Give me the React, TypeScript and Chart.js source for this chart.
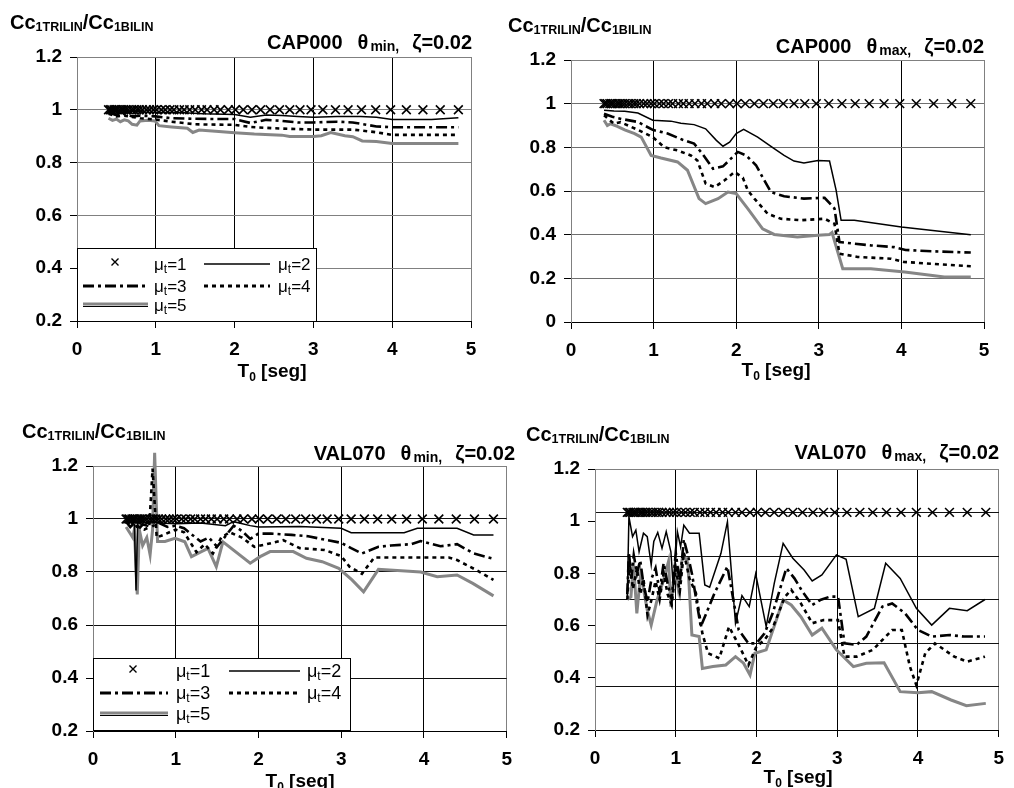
import React, { useEffect, useRef } from 'react';
import { Chart, registerables } from 'chart.js';

Chart.register(...registerables);

const FAM = "'Liberation Sans', Arial, Helvetica, sans-serif";

// ---------------- DATA ----------------
// Periods T0 [seg] (markers of mu_t = 1)
const periods = [0.40, 0.42, 0.44, 0.47, 0.49, 0.51, 0.54, 0.57, 0.59, 0.62, 0.65, 0.69, 0.72, 0.76, 0.79, 0.83, 0.88, 0.92, 0.97, 1.01, 1.07, 1.12, 1.18, 1.23, 1.30, 1.36, 1.43, 1.50, 1.58, 1.65, 1.74, 1.82, 1.92, 2.01, 2.11, 2.22, 2.33, 2.45, 2.57, 2.70, 2.83, 2.97, 3.12, 3.28, 3.44, 3.61, 3.79, 3.98, 4.18, 4.39, 4.61, 4.84];

const ratioMu1 = [1, 1, 1, 1, 1, 1, 1, 1, 1, 1, 1, 1, 1, 1, 1, 1, 1, 1, 1, 1, 1, 1, 1, 1, 1, 1, 1, 1, 1, 1, 1, 1, 1, 1, 1, 1, 1, 1, 1, 1, 1, 1, 1, 1, 1, 1, 1, 1, 1, 1, 1, 1];
const ratioMu1Val070Max = [1.034, 1.034, 1.034, 1.034, 1.034, 1.034, 1.034, 1.034, 1.034, 1.034, 1.034, 1.034, 1.034, 1.034, 1.034, 1.034, 1.034, 1.034, 1.034, 1.034, 1.034, 1.034, 1.034, 1.034, 1.034, 1.034, 1.034, 1.034, 1.034, 1.034, 1.034, 1.034, 1.034, 1.034, 1.034, 1.034, 1.034, 1.034, 1.034, 1.034, 1.034, 1.034, 1.034, 1.034, 1.034, 1.034, 1.034, 1.034, 1.034, 1.034, 1.034, 1.034];

// CAP000 theta min
const cap000MinMu2 = [[0.40, 1.0], [0.45, 0.99], [0.5, 0.995], [0.6, 0.99], [0.75, 0.995], [0.9, 0.99], [1.0, 0.99], [1.3, 0.99], [1.6, 0.985], [2.0, 0.982], [2.2, 0.972], [2.4, 0.98], [2.6, 0.978], [2.8, 0.975], [3.0, 0.972], [3.3, 0.975], [3.6, 0.975], [3.8, 0.972], [4.0, 0.963], [4.5, 0.963], [4.84, 0.97]];
const cap000MinMu3 = [[0.40, 0.99], [0.5, 0.98], [0.6, 0.985], [0.7, 0.975], [0.8, 0.978], [1.0, 0.975], [1.2, 0.968], [1.5, 0.966], [1.8, 0.965], [2.0, 0.965], [2.2, 0.95], [2.4, 0.962], [2.6, 0.958], [2.8, 0.952], [3.0, 0.952], [3.3, 0.955], [3.5, 0.952], [3.8, 0.937], [4.0, 0.934], [4.84, 0.934]];
const cap000MinMu4 = [[0.40, 0.985], [0.5, 0.975], [0.6, 0.978], [0.8, 0.968], [1.0, 0.963], [1.2, 0.955], [1.5, 0.945], [2.0, 0.943], [2.2, 0.935], [2.5, 0.93], [3.0, 0.925], [3.5, 0.925], [3.8, 0.915], [4.0, 0.905], [4.84, 0.905]];
const cap000MinMu5 = [[0.40, 0.968], [0.45, 0.96], [0.5, 0.965], [0.55, 0.955], [0.6, 0.962], [0.65, 0.958], [0.7, 0.945], [0.76, 0.942], [0.8, 0.958], [0.9, 0.96], [0.99, 0.958], [1.04, 0.94], [1.2, 0.935], [1.4, 0.93], [1.47, 0.914], [1.55, 0.923], [1.8, 0.918], [2.0, 0.913], [2.25, 0.908], [2.6, 0.904], [2.7, 0.899], [3.0, 0.899], [3.1, 0.902], [3.22, 0.914], [3.4, 0.902], [3.5, 0.898], [3.62, 0.882], [3.8, 0.88], [4.0, 0.872], [4.84, 0.872]];

// CAP000 theta max
const cap000MaxMu2 = [[0.40, 0.97], [0.52, 0.966], [0.65, 0.965], [0.81, 0.957], [0.99, 0.924], [1.21, 0.92], [1.33, 0.91], [1.49, 0.904], [1.63, 0.885], [1.76, 0.832], [1.84, 0.805], [1.92, 0.824], [2.0, 0.863], [2.09, 0.882], [2.26, 0.847], [2.46, 0.794], [2.58, 0.763], [2.7, 0.737], [2.82, 0.728], [2.99, 0.74], [3.13, 0.737], [3.21, 0.603], [3.27, 0.466], [3.43, 0.466], [4.0, 0.435], [4.84, 0.40]];
const cap000MaxMu3 = [[0.40, 0.954], [0.5, 0.94], [0.61, 0.93], [0.81, 0.916], [0.99, 0.88], [1.17, 0.863], [1.35, 0.835], [1.49, 0.817], [1.59, 0.771], [1.72, 0.702], [1.84, 0.713], [2.02, 0.779], [2.12, 0.763], [2.24, 0.718], [2.34, 0.649], [2.42, 0.595], [2.58, 0.576], [2.82, 0.565], [3.07, 0.569], [3.19, 0.52], [3.25, 0.366], [3.35, 0.362], [3.63, 0.351], [3.91, 0.343], [4.05, 0.33], [4.3, 0.325], [4.84, 0.318]];
const cap000MaxMu4 = [[0.40, 0.947], [0.52, 0.908], [0.6, 0.915], [0.81, 0.88], [0.99, 0.847], [1.13, 0.80], [1.29, 0.786], [1.45, 0.763], [1.53, 0.74], [1.63, 0.634], [1.74, 0.618], [1.86, 0.649], [1.98, 0.687], [2.08, 0.661], [2.14, 0.603], [2.22, 0.565], [2.38, 0.496], [2.54, 0.473], [2.78, 0.466], [2.9, 0.469], [3.07, 0.473], [3.19, 0.45], [3.25, 0.313], [3.47, 0.298], [3.87, 0.29], [4.03, 0.275], [4.36, 0.267], [4.84, 0.255]];
const cap000MaxMu5 = [[0.40, 0.924], [0.44, 0.9], [0.48, 0.908], [0.56, 0.896], [0.65, 0.88], [0.77, 0.863], [0.85, 0.847], [0.97, 0.763], [1.09, 0.751], [1.29, 0.733], [1.41, 0.695], [1.55, 0.565], [1.63, 0.542], [1.78, 0.565], [1.9, 0.595], [2.0, 0.588], [2.14, 0.519], [2.32, 0.427], [2.46, 0.401], [2.74, 0.389], [2.99, 0.397], [3.13, 0.401], [3.16, 0.41], [3.29, 0.244], [3.63, 0.244], [4.04, 0.229], [4.52, 0.206], [4.84, 0.206]];

// VAL070 theta min
const val070MinMu2 = [[0.40, 1.0], [0.45, 0.99], [0.5, 0.98], [0.52, 0.73], [0.54, 0.99], [0.6, 0.975], [0.7, 0.99], [0.8, 0.985], [1.0, 0.982], [1.3, 0.985], [1.6, 0.975], [1.7, 0.99], [1.9, 0.975], [2.0, 0.97], [2.5, 0.972], [3.0, 0.965], [3.12, 0.948], [3.76, 0.948], [3.92, 0.965], [4.4, 0.965], [4.6, 0.94], [4.84, 0.94]];
const val070MinMu3 = [[0.40, 0.99], [0.45, 0.97], [0.5, 0.985], [0.55, 0.96], [0.6, 0.98], [0.7, 0.97], [0.8, 0.985], [0.9, 0.97], [1.0, 0.975], [1.1, 0.965], [1.2, 0.94], [1.3, 0.915], [1.4, 0.93], [1.5, 0.895], [1.6, 0.935], [1.7, 0.975], [1.8, 0.955], [1.9, 0.925], [2.0, 0.945], [2.15, 0.945], [2.4, 0.94], [2.6, 0.935], [2.8, 0.922], [3.0, 0.91], [3.12, 0.89], [3.25, 0.87], [3.45, 0.895], [3.6, 0.9], [3.85, 0.905], [3.96, 0.917], [4.2, 0.897], [4.4, 0.905], [4.6, 0.87], [4.84, 0.85]];
const val070MinMu4 = [[0.40, 0.99], [0.45, 0.975], [0.5, 0.99], [0.55, 0.97], [0.62, 0.96], [0.68, 0.97], [0.72, 1.19], [0.77, 0.93], [0.85, 0.94], [1.0, 0.96], [1.1, 0.95], [1.2, 0.9], [1.25, 0.875], [1.35, 0.905], [1.45, 0.87], [1.55, 0.93], [1.65, 0.95], [1.8, 0.93], [1.95, 0.895], [2.1, 0.905], [2.3, 0.92], [2.5, 0.89], [2.8, 0.883], [3.0, 0.86], [3.1, 0.82], [3.25, 0.793], [3.4, 0.855], [3.7, 0.855], [4.3, 0.855], [4.4, 0.845], [4.63, 0.808], [4.84, 0.77]];
const val070MinMu5 = [[0.40, 0.97], [0.45, 0.945], [0.48, 0.93], [0.5, 0.96], [0.535, 0.715], [0.56, 0.96], [0.6, 0.9], [0.65, 0.93], [0.69, 0.865], [0.72, 0.96], [0.745, 1.25], [0.78, 0.915], [0.87, 0.915], [0.99, 0.927], [1.11, 0.914], [1.19, 0.858], [1.31, 0.877], [1.39, 0.889], [1.49, 0.82], [1.57, 0.914], [1.9, 0.833], [2.02, 0.858], [2.14, 0.877], [2.42, 0.877], [2.58, 0.852], [2.77, 0.839], [2.97, 0.814], [3.13, 0.77], [3.27, 0.725], [3.45, 0.81], [3.96, 0.8], [4.16, 0.782], [4.4, 0.789], [4.59, 0.757], [4.84, 0.71]];

// VAL070 theta max
const val070MaxMu2 = [[0.40, 0.71], [0.42, 1.017], [0.465, 0.941], [0.506, 0.966], [0.546, 0.883], [0.6, 0.954], [0.647, 0.941], [0.696, 0.832], [0.728, 0.922], [0.777, 0.957], [0.83, 0.896], [0.882, 0.96], [0.94, 0.883], [0.97, 0.743], [1.02, 0.96], [1.06, 0.902], [1.1, 0.985], [1.17, 0.954], [1.29, 0.954], [1.36, 0.756], [1.42, 0.747], [1.56, 0.877], [1.64, 0.998], [1.74, 0.609], [1.82, 0.715], [1.91, 0.673], [1.99, 0.798], [2.12, 0.596], [2.22, 0.762], [2.33, 0.915], [2.45, 0.858], [2.59, 0.813], [2.69, 0.771], [2.81, 0.794], [2.99, 0.871], [3.11, 0.854], [3.26, 0.634], [3.46, 0.666], [3.6, 0.839], [3.78, 0.781], [3.98, 0.666], [4.17, 0.602], [4.39, 0.666], [4.61, 0.657], [4.83, 0.70]];
const val070MaxMu3 = [[0.40, 0.72], [0.42, 0.88], [0.45, 0.78], [0.48, 0.87], [0.52, 0.8], [0.56, 0.85], [0.6, 0.76], [0.65, 0.69], [0.7, 0.78], [0.75, 0.82], [0.8, 0.73], [0.85, 0.84], [0.9, 0.76], [0.95, 0.7], [1.0, 0.88], [1.05, 0.76], [1.1, 0.93], [1.15, 0.87], [1.2, 0.8], [1.31, 0.596], [1.48, 0.724], [1.64, 0.826], [1.78, 0.583], [1.9, 0.532], [2.0, 0.532], [2.1, 0.57], [2.2, 0.647], [2.37, 0.82], [2.47, 0.781], [2.57, 0.73], [2.69, 0.679], [2.79, 0.698], [2.91, 0.711], [3.01, 0.711], [3.09, 0.532], [3.24, 0.526], [3.36, 0.558], [3.56, 0.673], [3.68, 0.685], [3.84, 0.647], [4.0, 0.583], [4.17, 0.558], [4.39, 0.564], [4.57, 0.558], [4.83, 0.558]];
const val070MaxMu4 = [[0.40, 0.7], [0.43, 0.84], [0.47, 0.74], [0.52, 0.82], [0.56, 0.72], [0.6, 0.78], [0.65, 0.64], [0.7, 0.7], [0.75, 0.77], [0.8, 0.7], [0.85, 0.8], [0.9, 0.72], [0.95, 0.68], [1.0, 0.82], [1.05, 0.73], [1.1, 0.88], [1.17, 0.78], [1.25, 0.724], [1.33, 0.57], [1.4, 0.494], [1.54, 0.475], [1.66, 0.596], [1.78, 0.526], [1.9, 0.449], [2.0, 0.52], [2.1, 0.545], [2.2, 0.59], [2.35, 0.71], [2.43, 0.737], [2.55, 0.685], [2.69, 0.609], [2.83, 0.621], [3.01, 0.621], [3.09, 0.481], [3.24, 0.481], [3.44, 0.507], [3.56, 0.545], [3.68, 0.583], [3.8, 0.583], [3.9, 0.443], [3.98, 0.372], [4.09, 0.494], [4.21, 0.532], [4.45, 0.481], [4.61, 0.462], [4.83, 0.481]];
const val070MaxMu5 = [[0.40, 0.7], [0.445, 0.71], [0.477, 0.839], [0.518, 0.647], [0.566, 0.8], [0.647, 0.66], [0.696, 0.602], [0.769, 0.698], [0.85, 0.775], [0.91, 0.845], [0.94, 0.673], [0.99, 0.826], [1.03, 0.743], [1.09, 0.877], [1.15, 0.839], [1.2, 0.564], [1.29, 0.558], [1.33, 0.436], [1.46, 0.443], [1.62, 0.449], [1.74, 0.481], [1.84, 0.456], [1.92, 0.411], [1.98, 0.494], [2.12, 0.507], [2.33, 0.698], [2.43, 0.679], [2.55, 0.634], [2.69, 0.564], [2.81, 0.59], [2.99, 0.507], [3.2, 0.443], [3.36, 0.456], [3.58, 0.458], [3.78, 0.347], [4.0, 0.343], [4.17, 0.347], [4.41, 0.315], [4.6, 0.293], [4.84, 0.302]];

const xTicks = [0, 1, 2, 3, 4, 5];
const legendLabels = ['1', '2', '3', '4', '5'];

// ---------------- LAYOUT (pixels, styles) ----------------
const panels = [
  {
    key: 'p1', name: 'CAP000', which: 'min', x0: 0, y0: 0, w: 507, h: 394,
    left: 77, right: 471, top: 57, bottom: 321, yMin: 0.2, yMax: 1.2, hGrid: '#808080',
    series: [ratioMu1, cap000MinMu2, cap000MinMu3, cap000MinMu4, cap000MinMu5],
    titleRight: 472, titleBase: 49, yTitleX: 10, yTitleBase: 29, xTitleCx: 272, xTitleBase: 377,
    legend: { box: [77, 248, 317, 322], rows: [264, 286, 305], s1: [83, 148], t1: 154, s2: [204, 270], t2: 278, mx: 115, fs: 17 },
    sixGrid: false,
  },
  {
    key: 'p2', name: 'CAP000', which: 'max', x0: 507, y0: 0, w: 507, h: 394,
    left: 571, right: 984, top: 60, bottom: 322, yMin: 0, yMax: 1.2, hGrid: '#6e6e6e',
    series: [ratioMu1, cap000MaxMu2, cap000MaxMu3, cap000MaxMu4, cap000MaxMu5],
    titleRight: 984, titleBase: 53, yTitleX: 508, yTitleBase: 32, xTitleCx: 776, xTitleBase: 376,
    legend: null, sixGrid: false,
  },
  {
    key: 'p3', name: 'VAL070', which: 'min', x0: 0, y0: 394, w: 522, h: 394,
    left: 93, right: 514, top: 466, bottom: 731, yMin: 0.2, yMax: 1.2, hGrid: '#111111',
    series: [ratioMu1, val070MinMu2, val070MinMu3, val070MinMu4, val070MinMu5],
    titleRight: 515, titleBase: 460, yTitleX: 22, yTitleBase: 438, xTitleCx: 300, xTitleBase: 787,
    legend: { box: [93, 658, 351, 731], rows: [671, 693, 714], s1: [100, 168], t1: 176, s2: [229, 300], t2: 307, mx: 133, fs: 18 },
    sixGrid: false,
  },
  {
    key: 'p4', name: 'VAL070', which: 'max', x0: 522, y0: 394, w: 492, h: 394,
    left: 595, right: 1007, top: 469, bottom: 730, yMin: 0.2, yMax: 1.2, hGrid: '#111111',
    series: [ratioMu1Val070Max, val070MaxMu2, val070MaxMu3, val070MaxMu4, val070MaxMu5],
    titleRight: 999, titleBase: 459, yTitleX: 526, yTitleBase: 441, xTitleCx: 798, xTitleBase: 783,
    legend: null, sixGrid: true,
  },
];

const Y_W = 60;
const X_H = 40;
const DASH3 = [11, 4, 3, 4];
const DASH4 = [4, 4];
const GRAY5 = '#868686';

function font(size: number, bold: boolean) {
  return `${bold ? 'bold ' : ''}${size}px ${FAM}`;
}

type Part = { t: string; size: number; bold?: boolean; dy?: number; gap?: number };

function partsWidth(ctx: CanvasRenderingContext2D, parts: Part[]) {
  let w = 0;
  parts.forEach((p, i) => {
    ctx.font = font(p.size, !!p.bold);
    w += ctx.measureText(p.t).width + (i < parts.length - 1 ? p.gap || 0 : 0);
  });
  return w;
}

function drawParts(ctx: CanvasRenderingContext2D, x: number, base: number, parts: Part[]) {
  ctx.textAlign = 'left';
  ctx.textBaseline = 'alphabetic';
  for (const p of parts) {
    ctx.font = font(p.size, !!p.bold);
    ctx.fillText(p.t, x, base + (p.dy || 0));
    x += ctx.measureText(p.t).width + (p.gap || 0);
  }
  return x;
}

function sampleLine(ctx: CanvasRenderingContext2D, x1: number, x2: number, y: number, idx: number) {
  ctx.save();
  ctx.lineCap = 'butt';
  if (idx === 1) {
    ctx.strokeStyle = '#000'; ctx.lineWidth = 1.5; ctx.setLineDash([]);
    ctx.beginPath(); ctx.moveTo(x1, y); ctx.lineTo(x2, y); ctx.stroke();
  } else if (idx === 2) {
    ctx.strokeStyle = '#000'; ctx.lineWidth = 3; ctx.setLineDash(DASH3);
    ctx.beginPath(); ctx.moveTo(x1, y); ctx.lineTo(x2, y); ctx.stroke();
  } else if (idx === 3) {
    ctx.strokeStyle = '#000'; ctx.lineWidth = 3; ctx.setLineDash(DASH4);
    ctx.beginPath(); ctx.moveTo(x1, y); ctx.lineTo(x2, y); ctx.stroke();
  } else if (idx === 4) {
    ctx.setLineDash([]);
    ctx.strokeStyle = GRAY5; ctx.lineWidth = 3;
    ctx.beginPath(); ctx.moveTo(x1, y - 1); ctx.lineTo(x2, y - 1); ctx.stroke();
    ctx.strokeStyle = '#000'; ctx.lineWidth = 1;
    ctx.beginPath(); ctx.moveTo(x1, y + 1.5); ctx.lineTo(x2, y + 1.5); ctx.stroke();
  }
  ctx.restore();
}

const decorPlugin = {
  id: 'decor',
  afterDraw(chart: any) {
    const p = chart.options.plugins.decor.spec;
    const ctx: CanvasRenderingContext2D = chart.ctx;
    ctx.save();
    ctx.translate(-p.x0, -p.y0);
    ctx.fillStyle = '#000';

    // y title
    drawParts(ctx, p.yTitleX, p.yTitleBase, [
      { t: 'Cc', size: 20, bold: true },
      { t: '1TRILIN', size: 12.5, bold: true, dy: 2 },
      { t: '/Cc', size: 20, bold: true },
      { t: '1BILIN', size: 12.5, bold: true, dy: 2 },
    ]);

    // panel title
    const tParts: Part[] = [
      { t: p.name, size: 20, bold: true, gap: 15 },
      { t: 'θ', size: 20, bold: true, gap: 2 },
      { t: p.which + ',', size: 14, bold: true, dy: 2, gap: 13 },
      { t: 'ζ=0.02', size: 20, bold: true },
    ];
    const tw = partsWidth(ctx, tParts);
    drawParts(ctx, p.titleRight - tw, p.titleBase, tParts);

    // x title
    const xParts: Part[] = [
      { t: 'T', size: 19, bold: true },
      { t: '0', size: 12, bold: true, dy: 4 },
      { t: ' [seg]', size: 19, bold: true },
    ];
    const xw = partsWidth(ctx, xParts);
    drawParts(ctx, p.xTitleCx - xw / 2, p.xTitleBase, xParts);

    // legend
    const L = p.legend;
    if (L) {
      const [bl, bt, br, bb] = L.box;
      ctx.fillStyle = '#fff';
      ctx.fillRect(bl, bt, br - bl, bb - bt);
      ctx.strokeStyle = '#000';
      ctx.lineWidth = 1;
      ctx.setLineDash([]);
      ctx.strokeRect(bl + 0.5, bt + 0.5, br - bl - 1, bb - bt - 1);
      ctx.fillStyle = '#000';
      const slots = [
        { row: 0, col: 0 }, { row: 0, col: 1 }, { row: 1, col: 0 }, { row: 1, col: 1 }, { row: 2, col: 0 },
      ];
      slots.forEach((s, i) => {
        const cy = L.rows[s.row];
        const sx = s.col === 0 ? L.s1 : L.s2;
        const tx = s.col === 0 ? L.t1 : L.t2;
        if (i === 0) {
          ctx.save();
          ctx.strokeStyle = '#000'; ctx.lineWidth = 1.4;
          const r = 3.5;
          ctx.beginPath();
          ctx.moveTo(L.mx - r, cy - r - 2); ctx.lineTo(L.mx + r, cy + r - 2);
          ctx.moveTo(L.mx + r, cy - r - 2); ctx.lineTo(L.mx - r, cy + r - 2);
          ctx.stroke();
          ctx.restore();
        } else {
          sampleLine(ctx, sx[0], sx[1], cy, i);
        }
        ctx.fillStyle = '#000';
        drawParts(ctx, tx, cy + L.fs * 0.36, [
          { t: 'μ', size: L.fs },
          { t: 't', size: Math.round(L.fs * 0.68), dy: 3 },
          { t: '=' + legendLabels[i], size: L.fs },
        ]);
      });
    }
    ctx.restore();
  },
};

function buildConfig(p: any) {
  const toXY = (pairs: number[][]) => pairs.map(([x, y]) => ({ x, y }));
  const mu1 = p.series[0] as number[];
  const datasets: any[] = [
    {
      label: 'μt=1',
      data: periods.map((t, i) => ({ x: t, y: mu1[i] })),
      showLine: false,
      pointStyle: 'crossRot',
      pointRadius: 6.2,
      pointBorderWidth: 1.6,
      pointBorderColor: '#000',
      pointBackgroundColor: '#000',
      borderColor: '#000',
      clip: false,
    },
    { label: 'μt=2', data: toXY(p.series[1]), borderColor: '#000', borderWidth: 1.5, pointRadius: 0, tension: 0, clip: false },
    { label: 'μt=3', data: toXY(p.series[2]), borderColor: '#000', borderWidth: 2.6, borderDash: DASH3, pointRadius: 0, tension: 0, clip: false },
    { label: 'μt=4', data: toXY(p.series[3]), borderColor: '#000', borderWidth: 2.6, borderDash: DASH4, pointRadius: 0, tension: 0, clip: false },
    { label: 'μt=5', data: toXY(p.series[4]), borderColor: GRAY5, borderWidth: 3, pointRadius: 0, tension: 0, clip: false },
  ];

  const tickFont = { family: FAM, size: 19, weight: 'bold' as const };
  const fmt = (v: any) => String(Math.round(Number(v) * 10) / 10);

  const scales: any = {
    x: {
      type: 'linear',
      min: xTicks[0],
      max: xTicks[xTicks.length - 1],
      afterBuildTicks: (s: any) => { s.ticks = xTicks.map((v) => ({ value: v })); },
      ticks: { font: tickFont, color: '#000', padding: 10, maxRotation: 0, callback: fmt },
      grid: {
        color: (c: any) => (c.tick && (c.tick.value === 0 || c.tick.value === 5) ? '#808080' : '#000'),
        lineWidth: 1,
        tickLength: 7,
        tickColor: '#000',
      },
      border: { display: true, color: '#000', width: 1 },
      afterFit: (s: any) => { s.height = X_H; },
    },
    y: {
      type: 'linear',
      position: 'left',
      min: p.yMin,
      max: p.yMax,
      ticks: { stepSize: 0.2, font: tickFont, color: '#000', padding: 8, callback: fmt },
      grid: p.sixGrid
        ? { drawOnChartArea: false, tickLength: 7, tickColor: '#000' }
        : {
            color: (c: any) => (c.tick && c.tick.value > p.yMax - 1e-6 ? '#808080' : p.hGrid),
            lineWidth: 1,
            tickLength: 7,
            tickColor: '#000',
          },
      border: { display: true, color: '#808080', width: 1 },
      afterFit: (s: any) => { s.width = Y_W; },
    },
  };
  if (p.sixGrid) {
    scales.y2 = {
      type: 'linear',
      position: 'right',
      min: p.yMin,
      max: p.yMax,
      ticks: { display: false, count: 7 },
      grid: {
        color: (c: any) => (c.tick && c.tick.value > p.yMax - 1e-6 ? '#808080' : p.hGrid),
        lineWidth: 1,
        drawTicks: false,
      },
      border: { display: false },
      afterFit: (s: any) => { s.width = 0; },
    };
  }

  return {
    type: 'line',
    data: { datasets },
    options: {
      animation: false,
      responsive: false,
      maintainAspectRatio: false,
      events: [],
      layout: {
        padding: {
          left: p.left - p.x0 - Y_W,
          right: p.x0 + p.w - p.right,
          top: p.top - p.y0,
          bottom: p.y0 + p.h - p.bottom - X_H,
        },
      },
      plugins: {
        legend: { display: false },
        tooltip: { enabled: false },
        title: { display: false },
        decor: { spec: p },
      },
      scales,
    },
    plugins: [decorPlugin],
  };
}

function Panel({ spec }: { spec: any }) {
  const ref = useRef<HTMLCanvasElement>(null);
  useEffect(() => {
    const chart = new Chart(ref.current as HTMLCanvasElement, buildConfig(spec) as any);
    return () => chart.destroy();
  }, [spec]);
  return (
    <canvas
      ref={ref}
      width={spec.w}
      height={spec.h}
      style={{ position: 'absolute', left: spec.x0, top: spec.y0, width: spec.w, height: spec.h }}
    />
  );
}

export default function App() {
  return (
    <div style={{ position: 'absolute', left: 0, top: 0, width: 1014, height: 788, background: '#fff', overflow: 'hidden' }}>
      {panels.map((p) => (
        <Panel key={p.key} spec={p} />
      ))}
    </div>
  );
}
